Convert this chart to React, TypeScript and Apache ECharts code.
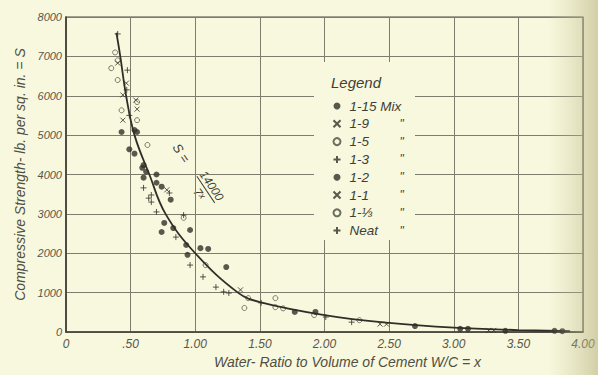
import React, { useEffect, useRef } from "react";
import * as echarts from "echarts";

const xTickLabels = ["0", ".50", "1.00", "1.50", "2.00", "2.50", "3.00", "3.50", "4.00"];
const yTickLabels = ["0", "1000", "2000", "3000", "4000", "5000", "6000", "7000", "8000"];

const seriesNames = ["1-15 Mix", "1-9", "1-5", "1-3", "1-2", "1-1", "1-⅓", "Neat"];

const mix1_15: [number, number][] = [
  [0.81, 3360], [0.76, 2770], [0.74, 2540], [0.83, 2640], [0.96, 2590], [0.93, 2210],
  [0.94, 1960], [1.04, 2130], [1.1, 2110], [1.24, 1650], [1.77, 510], [1.93, 510],
  [2.7, 150], [3.05, 80], [3.11, 80], [3.4, 30], [3.78, 30], [3.84, 20],
];
const mix1_9: [number, number][] = [
  [0.54, 5890], [0.55, 5660], [0.78, 3610], [1.35, 1070], [2.43, 200], [2.48, 200],
  [3.27, 40], [3.31, 40],
];
const mix1_5: [number, number][] = [
  [0.55, 5840], [0.55, 5380], [0.63, 4750], [0.91, 2900], [1.08, 1700], [1.41, 860],
  [1.38, 610], [1.62, 860], [1.62, 630], [1.68, 600], [1.92, 430], [2.27, 300],
];
const mix1_3: [number, number][] = [
  [0.6, 3660], [0.64, 3400], [0.66, 3480], [0.66, 3300], [0.8, 3530], [0.7, 3050],
  [0.85, 2410], [0.91, 2970], [0.96, 1700], [1.06, 1400], [1.16, 1140], [1.22, 1020],
  [1.26, 990], [1.51, 740], [2.01, 380], [2.21, 250],
];
const mix1_2: [number, number][] = [
  [0.43, 5080], [0.53, 5130], [0.49, 4640], [0.53, 4530], [0.6, 4240], [0.62, 4070],
  [0.7, 4000], [0.6, 3920], [0.59, 4170], [0.74, 3690], [0.7, 3790], [0.55, 5080],
];
const mix1_1: [number, number][] = [
  [0.4, 6830], [0.467, 6320], [0.44, 6020], [0.44, 5380],
];
const mix1_third: [number, number][] = [
  [0.38, 7100], [0.35, 6700], [0.4, 6900], [0.4, 6400], [0.43, 5630],
];
const neat: [number, number][] = [
  [0.4, 7570], [0.475, 6650], [0.47, 6150], [0.49, 5500],
];

const curve: [number, number][] = [
  [0.39, 7600], [0.42, 7000], [0.465, 6000], [0.53, 5000], [0.645, 4000], [0.77, 3000],
  [1.0, 2000], [1.33, 1000], [1.5, 760], [2.0, 430], [2.5, 230], [3.0, 110], [3.5, 50], [3.9, 20],
];

const INK = "#2f2f28";
const FONT = "Liberation Sans";
const X_SYM = "path://M0,0L10,10M10,0L0,10";
const PLUS_SYM = "path://M5,0L5,10M0,5L10,5";

function scatter(name: string, data: [number, number][], kind: string) {
  const base: any = { type: "scatter", name, data, z: 3 };
  if (kind === "dot") {
    base.symbol = "circle";
    base.symbolSize = 6;
    base.itemStyle = { color: INK };
  } else if (kind === "x") {
    base.symbol = X_SYM;
    base.symbolSize = 5;
    base.itemStyle = { color: "none", borderColor: INK, borderWidth: 1 };
  } else if (kind === "o") {
    base.symbol = "circle";
    base.symbolSize = 5;
    base.itemStyle = { color: "none", borderColor: "#4a4a40", borderWidth: 0.9 };
  } else {
    base.symbol = PLUS_SYM;
    base.symbolSize = 6;
    base.itemStyle = { color: "none", borderColor: INK, borderWidth: 1 };
  }
  return base;
}

export default function App() {
  const ref = useRef<HTMLDivElement>(null);
  useEffect(() => {
    if (!ref.current) return;
    const chart = echarts.init(ref.current, undefined, { renderer: "svg" });
    const kinds = ["dot", "x", "o", "plus", "dot", "x", "o", "plus"];
    const datas = [mix1_15, mix1_9, mix1_5, mix1_3, mix1_2, mix1_1, mix1_third, neat];
    const series: any[] = seriesNames.map((n, i) => scatter(n, datas[i], kinds[i]));
    series.push({
      type: "line",
      name: "S = 14000/7^x",
      data: curve,
      smooth: 0.4,
      symbol: "none",
      lineStyle: { color: INK, width: 1.8 },
      z: 4,
    });
    chart.setOption({
      animation: false,
      backgroundColor: "#f8f8de",
      grid: {
        left: 66, right: 15, top: 17, bottom: 43,
        show: true, borderColor: "#4a4a40", borderWidth: 1.2, backgroundColor: "transparent",
      },
      xAxis: {
        type: "value", min: 0, max: 4, interval: 0.5,
        axisLine: { show: true, lineStyle: { color: "#3f3f36", width: 1.6 } },
        axisTick: { show: false },
        splitLine: { show: true, lineStyle: { color: "#7d7d6e", width: 1 } },
        axisLabel: {
          formatter: (v: number) => xTickLabels[Math.round(v / 0.5)],
          fontFamily: FONT, fontStyle: "italic", fontSize: 12, color: "#57574a", margin: 6,
        },
        name: "Water- Ratio to Volume of Cement W/C = x",
        nameLocation: "middle", nameGap: 23,
        nameTextStyle: { fontFamily: FONT, fontStyle: "italic", fontSize: 14, color: "#4f4f44", padding: [0, 0, 0, 46] },
      },
      yAxis: {
        type: "value", min: 0, max: 8000, interval: 1000,
        axisLine: { show: true, lineStyle: { color: "#3f3f36", width: 1.6 } },
        axisTick: { show: false },
        splitLine: { show: true, lineStyle: { color: "#7d7d6e", width: 1 } },
        axisLabel: {
          formatter: (v: number) => yTickLabels[Math.round(v / 1000)],
          fontFamily: FONT, fontStyle: "italic", fontSize: 11, color: "#57574a", margin: 4,
        },
        name: "Compressive Strength- lb. per sq. in. = S",
        nameLocation: "middle", nameGap: 38,
        nameTextStyle: { fontFamily: FONT, fontStyle: "italic", fontSize: 14, color: "#4f4f44" },
      },
      legend: {
        data: seriesNames,
        orient: "vertical",
        left: 326, top: 94,
        itemWidth: 7, itemHeight: 7, itemGap: 3.8,
        textStyle: {
          fontFamily: FONT, fontStyle: "italic", fontSize: 13.5, color: "#3f3f36",
          lineHeight: 14,
          rich: {
            n: { width: 50, fontFamily: FONT, fontStyle: "italic", fontSize: 13.5, color: "#3f3f36", padding: [0, 0, 0, 4] },
            d: { fontFamily: FONT, fontSize: 12, color: "#3f3f36" },
          },
        },
        formatter: (name: string) => (name === "1-15 Mix" ? `{n|${name}}` : `{n|${name}}{d|"}`),
      },
      graphic: [
        {
          type: "rect", z: 1, silent: true,
          shape: { x: 314, y: 62, width: 101, height: 178 },
          style: { fill: "#f8f8de" },
        },
        {
          type: "text", z: 5, left: 331, top: 75,
          style: { text: "Legend", font: `italic 15px "${FONT}"`, fill: "#3f3f36" },
        },
        {
          type: "group", x: 198, y: 178, rotation: -0.98, z: 5,
          children: [
            { type: "text", x: -30, y: 0, style: { text: "S =", font: `italic 13px "${FONT}"`, fill: "#3f3f36", verticalAlign: "middle", align: "center" } },
            { type: "text", x: 14, y: -7, style: { text: "14000", font: `italic 12px "${FONT}"`, fill: "#3f3f36", verticalAlign: "middle", align: "center" } },
            { type: "line", shape: { x1: -2, y1: 0, x2: 30, y2: 0 }, style: { stroke: "#3f3f36", lineWidth: 1 } },
            {
              type: "text", x: 14, y: 8,
              style: {
                text: "7{s|x}", font: `italic 12px "${FONT}"`, fill: "#3f3f36", verticalAlign: "middle", align: "center",
                rich: { s: { fontSize: 9, fontStyle: "italic", fontFamily: FONT, fill: "#3f3f36", verticalAlign: "top" } },
              },
            },
          ],
        },
        {
          type: "rect", z: 100, silent: true,
          shape: { x: 548, y: 0, width: 50, height: 375 },
          style: {
            fill: new echarts.graphic.LinearGradient(0, 0, 1, 0, [
              { offset: 0, color: "rgba(200,196,150,0)" },
              { offset: 1, color: "rgba(185,180,130,0.6)" },
            ]),
          },
        },
      ],
      series,
    });
    return () => chart.dispose();
  }, []);
  return <div ref={ref} style={{ width: 598, height: 375, position: "absolute", left: 0, top: 0 }} />;
}
